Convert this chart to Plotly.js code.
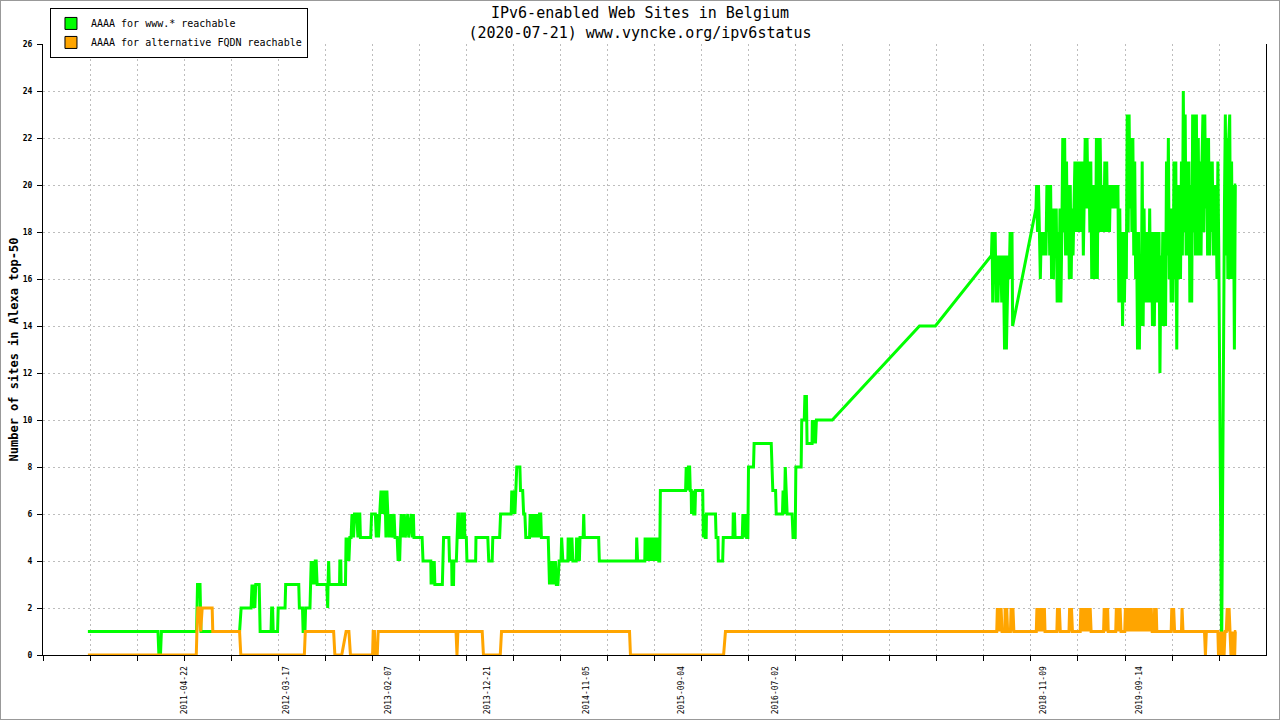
<!DOCTYPE html>
<html><head><meta charset="utf-8">
<script src="https://cdn.plot.ly/plotly-3.0.1.min.js"></script>
<style>
html,body{margin:0;padding:0;background:#fff;}
#chart{width:1280px;height:720px;}
#frame{position:absolute;left:0;top:0;width:1280px;height:720px;box-sizing:border-box;border:1px solid #999;pointer-events:none;}
</style></head><body>
<div id="chart"></div><div id="frame"></div>
<script>
// Sample dates are stored as day offsets from BASE_DATE: [day, value]
const BASE_DATE = '2010-01-01';

const greenPoints = [
[167,1],[392,1],[395,0],[400,0],[403,1],[516,1],[519,3],[527,3],[530,1],[654,1],[659,2],[691,2],[694,3],[697,2],[700,3],[703,2],[706,3],[717,3],[720,1],[755,1],[757,2],[760,2],[762,1],[776,1],[778,2],[800,2],[802,3],[844,3],[846,2],[856,2],[858,1],[864,1],[866,2],[880,2],[882,3],[884,4],[887,3],[890,4],[894,3],[897,4],[900,4],[903,3],[934,3],[935,2],[937,2],[938,3],[940,4],[942,3],[975,3],[976,4],[979,4],[980,3],[994,3],[996,5],[999,4],[1002,5],[1005,4],[1008,5],[1012,5],[1015,6],[1020,5],[1023,6],[1030,6],[1034,5],[1036,6],[1040,6],[1042,5],
[1075,5],[1078,6],[1090,6],[1093,5],[1097,6],[1100,5],[1104,6],[1108,7],[1111,6],[1114,7],[1118,6],[1121,7],[1124,5],[1127,7],[1130,6],[1134,5],[1140,6],[1143,5],[1150,6],[1153,5],[1160,5],[1163,4],[1166,5],
[1168,4],[1170,5],[1173,6],[1178,5],[1183,6],[1186,5],[1194,6],[1197,5],[1206,6],[1209,5],[1212,6],[1214,5],[1240,5],[1243,4],[1268,4],[1269,3],[1273,4],[1276,3],[1279,4],[1281,3],[1305,3],[1307,4],[1309,5],[1326,5],[1328,4],[1335,4],[1336,3],[1341,3],[1342,4],[1350,4],[1352,5],[1355,6],[1359,6],[1360,5],[1368,5],[1369,6],[1376,6],[1377,5],[1382,5],[1384,4],[1412,4],[1413,5],[1451,5],[1454,4],[1465,4],[1467,5],[1489,5],[1492,6],[1526,6],[1528,7],[1531,6],[1534,7],[1538,6],[1542,7],[1544,8],[1554,8],[1556,7],[1563,7],[1566,6],[1570,6],[1573,5],[1585,5],[1587,6],[1591,5],[1595,6],[1598,5],[1602,6],[1606,5],[1610,6],[1614,5],[1617,6],[1621,6],[1623,5],[1645,5],[1647,4],[1649,3],[1653,4],[1656,3],[1660,4],[1663,3],[1668,4],[1671,3],[1676,3],[1680,4],[1686,4],[1688,5],[1692,4],[1708,4],[1709,5],[1712,4],[1715,5],[1718,4],[1721,5],[1724,4],[1735,4],[1736,5],[1739,4],[1742,5],[1745,4],[1747,5],[1757,5],[1759,6],[1761,5],[1807,5],[1809,4],[1928,4],[1929,5],[1932,4],[1955,4],[1956,5],[1959,4],[1962,5],[1964,4],[1967,5],[1970,4],[1973,5],[1976,4],[1979,5],[1982,4],[1985,5],[1988,4],[1991,5],[1994,4],[1997,5],[2000,4],[2003,4],[2005,7],[2086,7],[2088,8],[2092,7],[2095,8],[2099,8],[2101,7],[2104,7],[2105,6],[2109,7],[2112,6],[2116,6],[2118,7],[2141,7],[2143,5],[2146,6],[2149,5],[2152,5],[2153,6],[2182,6],[2184,5],[2190,5],[2191,4],[2205,4],[2207,5],[2238,5],[2239,6],[2243,6],[2245,5],[2268,5],[2270,6],[2273,5],[2278,6],[2282,5],[2286,5],[2288,8],[2304,8],[2306,9],[2361,9],[2363,8],[2366,7],[2375,7],[2377,6],[2397,6],[2399,7],[2403,6],[2406,8],[2409,7],[2412,6],[2428,6],[2431,5],[2438,5],[2440,8],[2457,8],[2459,10],[2467,10],[2469,11],[2474,11],[2476,9],[2492,9],[2493,10],[2496,9],[2500,10],[2503,9],[2506,10],[2557,10],[2837,14],[2888,14],[3068,17],
[3070,18],[3072,15],[3074,18],[3077,16],[3080,18],[3083,15],[3086,17],[3089,15],[3092,17],[3095,16],[3098,17],[3101,15],[3104,17],[3107,16],[3110,13],[3113,17],[3116,13],[3119,16],[3122,17],[3125,16],[3128,18],[3131,16],[3134,18],[3136,14],[3211,19],
[3213,20],[3216,18],[3219,20],[3222,18],[3225,16],[3228,18],[3231,17],[3234,18],[3237,17],[3240,18],[3243,17],[3246,20],[3249,18],[3252,20],[3255,17],[3258,20],[3261,16],[3264,19],[3267,16],[3270,19],[3273,17],[3276,19],[3279,15],[3282,18],[3285,15],[3288,19],[3291,15],[3294,18],[3297,22],[3300,18],[3303,22],[3306,17],[3309,21],[3312,17],[3315,20],[3318,16],[3321,20],[3324,16],[3327,19],[3330,17],[3333,19],[3336,21],[3339,18],[3342,21],[3345,18],[3348,21],[3351,18],[3354,21],[3357,18],[3360,21],[3363,17],[3366,21],[3369,22],[3372,19],[3375,22],[3378,19],[3381,21],[3384,18],[3387,21],[3390,16],[3393,20],[3396,16],[3399,20],[3402,16],[3405,22],[3408,16],[3411,22],[3414,18],[3417,22],[3420,19],[3423,18],[3426,20],[3429,18],[3432,21],[3435,18],[3438,21],[3441,18],[3444,20],[3447,18],[3450,20],[3453,19],[3456,20],[3459,19],[3462,20],[3465,19],[3468,20],[3471,19],[3474,20],[3477,15],[3480,19],[3483,15],[3486,18],[3489,14],[3492,18],[3495,15],[3498,18],[3501,16],[3504,23],[3507,18],[3510,23],[3513,19],[3516,22],[3519,18],[3522,22],[3525,17],[3528,21],[3531,16],[3534,18],[3537,13],[3540,18],[3543,13],[3546,17],[3549,14],[3552,21],[3555,14],[3558,19],[3561,15],[3564,18],[3567,15],[3570,18],[3573,15],[3576,19],[3579,15],[3582,18],[3585,14],[3588,18],[3591,14],[3594,18],[3597,15],[3600,18],[3603,15],[3606,18],[3609,12],[3612,17],[3615,14],[3618,18],[3621,14],[3624,18],[3627,14],[3630,21],[3633,17],[3636,22],[3639,16],[3642,19],[3645,15],[3648,19],[3651,15],[3654,21],[3657,16],[3660,21],[3663,13],[3666,20],[3669,16],[3672,20],[3675,16],[3678,21],[3681,17],[3684,24],[3687,18],[3690,23],[3693,17],[3696,21],[3699,17],[3702,21],[3705,15],[3708,20],[3711,15],[3714,23],[3717,18],[3720,23],[3723,17],[3726,23],[3729,17],[3732,22],[3735,17],[3738,21],[3741,17],[3744,21],[3747,23],[3750,18],[3753,23],[3756,19],[3759,22],[3762,17],[3765,22],[3768,17],[3771,21],[3774,18],[3777,21],[3780,17],[3783,20],[3786,17],[3789,20],[3792,16],[3795,21],[3798,17],[3807,0],[3816,19],[3819,23],[3822,17],[3824,22],[3827,16],[3830,22],[3833,23],[3836,16],[3839,21],[3842,16],[3845,20],[3848,13],[3851,20],[3854,20]
];

const orangePoints = [
[167,0],[515,0],[517,1],[520,2],[526,2],[529,1],[534,2],[566,2],[568,1],[654,1],[658,0],[862,0],[865,1],[956,1],[960,0],[982,0],[996,1],[1005,1],[1010,0],[1081,0],[1083,1],[1087,1],[1089,0],[1096,0],[1099,1],[1349,1],[1352,0],[1355,1],[1433,1],[1437,0],[1491,0],[1495,1],[1906,1],[1909,0],[2208,0],[2214,1],
[3085,1],[3087,2],[3090,1],[3093,2],[3096,1],[3099,2],[3102,1],
[3111,1],[3112,2],[3114,1],[3117,2],[3120,1],
[3129,1],[3131,2],[3134,1],[3137,2],[3140,1],
[3212,1],[3214,2],[3217,1],[3220,2],[3223,1],[3226,2],[3229,1],[3232,2],[3235,1],[3238,2],[3240,1],
[3278,1],[3280,2],[3283,1],[3286,2],[3289,1],
[3317,1],[3319,2],[3322,1],[3325,2],[3328,1],
[3353,1],[3355,2],[3358,1],[3361,2],[3364,1],[3367,2],[3370,1],[3373,2],[3376,1],[3379,2],[3382,1],[3385,2],[3388,1],
[3428,1],[3430,2],[3433,1],[3436,2],[3439,1],[3441,2],[3443,1],
[3467,1],[3469,2],[3472,1],[3475,2],[3478,1],[3481,2],[3484,1],
[3496,1],[3498,2],[3501,1],[3504,2],[3507,1],[3510,2],[3513,1],[3516,2],[3519,1],[3522,2],[3525,1],[3528,2],[3531,1],[3534,2],[3537,1],[3540,2],[3543,1],[3546,2],[3549,1],[3552,2],[3554,1],[3557,2],[3560,1],[3563,2],[3566,1],[3569,2],[3572,1],[3575,2],[3578,1],[3581,2],[3584,1],
[3590,1],[3592,2],[3595,1],[3597,2],[3599,1],
[3645,1],[3647,2],[3650,1],[3653,2],[3656,1],
[3678,1],[3680,2],[3683,1],
[3752,1],[3755,0],[3758,1],
[3795,1],[3797,0],[3800,1],[3803,0],[3806,1],[3809,0],[3812,1],[3815,0],[3818,1],[3822,1],[3825,2],[3828,1],[3831,2],[3834,1],[3837,0],[3840,1],[3843,0],[3846,1],[3849,0],[3851,1],[3854,1]
];

const tickDates = ['2011-04-22','2012-03-17','2013-02-07','2013-12-21','2014-11-05','2015-09-04','2016-07-02','2018-11-09','2019-09-14'];
const seriesNames = ['AAAA for www.* reachable', 'AAAA for alternative FQDN reachable'];
const seriesColors = ['#00ff00', '#ffa500'];
const chartTitle = 'IPv6-enabled Web Sites in Belgium<br>(2020-07-21) www.vyncke.org/ipv6status';
const yTitle = 'Number of sites in Alexa top-50';

const baseMs = Date.parse(BASE_DATE + 'T00:00:00Z');
function toDate(d) { return new Date(baseMs + d * 86400000).toISOString().slice(0, 10); }

const xRange = ['2010-01-23 21:00', '2020-10-24 12:00'];
const gridStepMs = 151.04 * 86400000;
const FONT = 'DejaVu Sans Mono, Liberation Mono, monospace';

const traces = [
  { type: 'scatter', mode: 'lines', x: greenPoints.map(p => toDate(p[0])), y: greenPoints.map(p => p[1]),
    line: { color: seriesColors[0], width: 3 }, showlegend: false },
  { type: 'scatter', mode: 'lines', x: orangePoints.map(p => toDate(p[0])), y: orangePoints.map(p => p[1]),
    line: { color: seriesColors[1], width: 3 }, showlegend: false },
  { type: 'bar', x: [null], y: [null], name: seriesNames[0],
    marker: { color: seriesColors[0], line: { color: '#000', width: 1 } } },
  { type: 'bar', x: [null], y: [null], name: seriesNames[1],
    marker: { color: seriesColors[1], line: { color: '#000', width: 1 } } },
  { type: 'scatter', mode: 'lines', x: [null], y: [null], xaxis: 'x2', showlegend: false, hoverinfo: 'skip' }
];

const layout = {
  width: 1280, height: 720,
  margin: { l: 43, r: 14, t: 44, b: 65, pad: 0, autoexpand: false },
  paper_bgcolor: '#fff', plot_bgcolor: '#fff',
  font: { family: FONT, color: '#000' },
  title: { text: chartTitle,
    font: { size: 15, family: FONT, color: '#000' },
    xref: 'container', x: 0.5, xanchor: 'center', yref: 'container', y: 0.975, yanchor: 'top' },
  showlegend: true,
  legend: { x: 0.0057, xanchor: 'left', y: 1.059, yanchor: 'top', bgcolor: '#fff',
    bordercolor: '#000', borderwidth: 1, font: { size: 10, family: FONT, color: '#000' },
    traceorder: 'normal', itemwidth: 30, tracegroupgap: 0 },
  xaxis: { type: 'date', range: xRange, tickmode: 'array', tickvals: tickDates, ticktext: tickDates,
    tickangle: -90, ticks: '', showgrid: false, zeroline: false, showline: true,
    linecolor: '#000', linewidth: 1, tickfont: { size: 8, family: FONT, color: '#000' },
    ticklabelstandoff: 7, fixedrange: true },
  xaxis2: { type: 'date', overlaying: 'x', anchor: 'y', side: 'bottom', range: xRange,
    tickmode: 'linear', tick0: '2011-04-22', dtick: gridStepMs, showticklabels: false,
    ticks: 'outside', ticklen: 5, tickcolor: '#000', tickwidth: 1,
    showgrid: true, gridcolor: '#bdbdbd', griddash: '2px,3px', gridwidth: 1,
    zeroline: false, showline: false, fixedrange: true },
  yaxis: { range: [0, 26], tickmode: 'linear', tick0: 0, dtick: 2, ticks: 'outside', ticklen: 5,
    tickcolor: '#000', showline: true, linecolor: '#000', linewidth: 1, mirror: true,
    showgrid: true, gridcolor: '#bdbdbd', griddash: '2px,3px', gridwidth: 1, zeroline: false,
    tickfont: { size: 8, family: FONT, color: '#000', weight: 'bold' }, ticklabelstandoff: 3,
    title: { text: yTitle, standoff: 1,
      font: { size: 12, family: FONT, color: '#000', weight: 'bold' } },
    fixedrange: true }
};

Plotly.newPlot('chart', traces, layout, { displayModeBar: false, staticPlot: true });
</script>
</body></html>
